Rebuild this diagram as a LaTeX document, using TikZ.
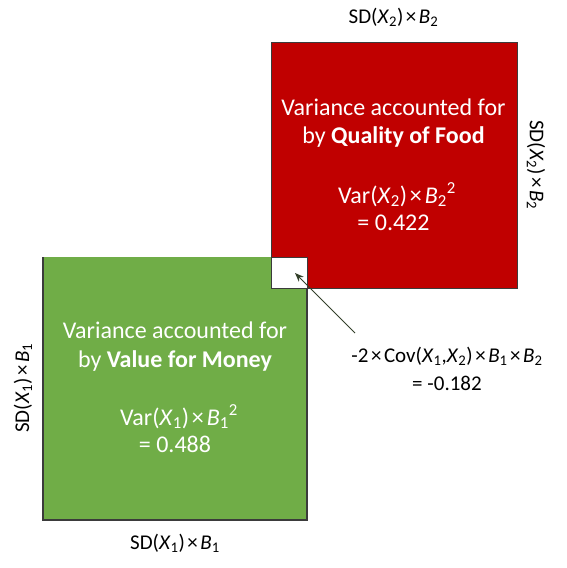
\documentclass[tikz,border=0pt]{standalone}
\usepackage{fontspec}
\setmainfont{Carlito}
\usetikzlibrary{arrows.meta}
\definecolor{boxred}{HTML}{C00000}
\definecolor{boxgreen}{HTML}{70AD47}
\definecolor{edge}{HTML}{3B3B3B}
\definecolor{arrowcol}{HTML}{33402A}
\newcommand{\sbs}[1]{\textsubscript{#1}}
\newcommand{\sps}[1]{\textsuperscript{#1}}
\newcommand{\tms}{\kern0.12em×\kern0.12em}
\begin{document}
\begin{tikzpicture}[x=1pt,y=-1pt,
  boxtext/.style={text=white,font=\fontsize{24}{28}\selectfont,anchor=base,inner sep=0pt},
  dimlabel/.style={text=black,font=\fontsize{21}{25}\selectfont,inner sep=0pt},
  edgeline/.style={draw=edge,line width=1.3pt}]
\useasboundingbox (0,0) rectangle (566,568);
% red square
\node[edgeline,fill=boxred,minimum width=246pt,minimum height=246pt,inner sep=0pt,anchor=north west] (red) at (271,42) {};
% green square
\fill[boxgreen] (43,257) rectangle (307,520);
\draw[edgeline] (43,257) -- (43,520) -- (307,520) -- (307,288);
\node[inner sep=0pt,minimum width=264pt,minimum height=263pt,anchor=north west] (green) at (43,257) {};
% overlap square
\node[edgeline,fill=white,minimum width=36pt,minimum height=31pt,inner sep=0pt,anchor=north west] (overlap) at (271,257) {};
% red text
\node[boxtext] (r1) at (393.5,115) {Variance accounted for};
\node[boxtext] (r2) at (393.5,143) {by \textbf{Quality of Food}};
\node[boxtext] (r3) at (397,203) {Var(\textit{X}\sbs{2})\tms\textit{B}\sbs{2}\sps{2}};
\node[boxtext] (r4) at (393.5,230) {= 0.422};
% green text
\node[boxtext] (g1) at (175,338) {Variance accounted for};
\node[boxtext] (g2) at (175,367) {by \textbf{Value for Money}};
\node[boxtext] (g3) at (179,425) {Var(\textit{X}\sbs{1})\tms\textit{B}\sbs{1}\sps{2}};
\node[boxtext] (g4) at (175,452) {= 0.488};
% dimension labels
\node[dimlabel,anchor=base] (top) at (393.5,23) {SD(\textit{X}\sbs{2})\tms\textit{B}\sbs{2}};
\node[dimlabel,rotate=-90] (right) at (536,165) {SD(\textit{X}\sbs{2})\tms\textit{B}\sbs{2}};
\node[dimlabel,rotate=90] (left) at (23,388) {SD(\textit{X}\sbs{1})\tms\textit{B}\sbs{1}};
\node[dimlabel,anchor=base] (bottom) at (175,549) {SD(\textit{X}\sbs{1})\tms\textit{B}\sbs{1}};
% covariance label
\node[dimlabel,anchor=base] (cov1) at (447,362) {-2\tms Cov(\textit{X}\sbs{1},\textit{X}\sbs{2})\tms\textit{B}\sbs{1}\tms\textit{B}\sbs{2}};
\node[dimlabel,anchor=base] (cov2) at (447,390) {= -0.182};
% arrow
\coordinate (astart) at (355,333);
\coordinate (atip) at (295,273);
\draw[arrowcol,line width=0.9pt,-{Stealth[length=9pt,width=7pt]}] (astart) -- (atip);
\end{tikzpicture}
\end{document}
